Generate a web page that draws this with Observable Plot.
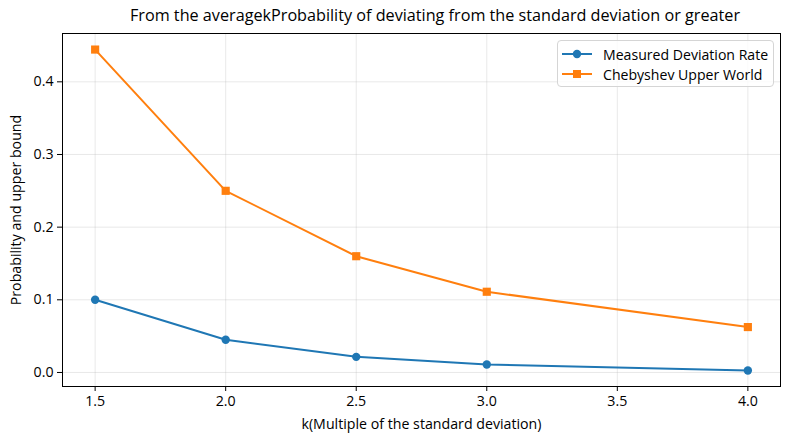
<!DOCTYPE html>
<html><head><meta charset="utf-8">
<script src="https://cdn.jsdelivr.net/npm/d3@7"></script>
<script src="https://cdn.jsdelivr.net/npm/@observablehq/plot@0.6"></script>
<style>
body{margin:0;background:#fff;font-family:"Open Sans",sans-serif;}
#wrap{position:relative;width:790px;height:440px;}
#title{position:absolute;top:4px;left:62px;width:746px;text-align:center;font-size:16.2px;color:#000;white-space:nowrap;}
#legend{position:absolute;top:40px;left:557px;width:217px;height:47px;border:1px solid #d5d5d5;border-radius:4px;background:rgba(255,255,255,0.8);font-size:14.1px;box-sizing:border-box;}
.li{position:absolute;left:4px;height:16px;display:flex;align-items:center;white-space:nowrap;}
.li svg{margin-right:11px;}
</style></head><body>
<div id="wrap"><div id="title">From the averagekProbability of deviating from the standard deviation or greater</div></div>
<script>
const kValues = [1.5, 2.0, 2.5, 3.0, 4.0];
const measured = [0.100, 0.045, 0.0215, 0.011, 0.0028];
const chebyshev = [0.4444, 0.25, 0.16, 0.1111, 0.0625];
const xTicks = [1.5, 2.0, 2.5, 3.0, 3.5, 4.0];
const yTicks = [0.0, 0.1, 0.2, 0.3, 0.4];
const seriesNames = ["Measured Deviation Rate", "Chebyshev Upper World"];
const colors = ["#1f77b4", "#ff7f0e"];

const mData = kValues.map((k, i) => ({k, v: measured[i]}));
const cData = kValues.map((k, i) => ({k, v: chebyshev[i]}));

const chart = Plot.plot({
  width: 790, height: 440,
  marginTop: 33, marginLeft: 62, marginRight: 10, marginBottom: 54,
  style: {fontFamily: '"Open Sans",sans-serif', fontSize: "14.2px", color: "#000", background: "#fff"},
  x: {domain: [1.375, 4.125], ticks: xTicks},
  y: {domain: [-0.0193, 0.4665], ticks: yTicks},
  marks: [
    Plot.gridX(xTicks, {stroke: "#b0b0b0", strokeOpacity: 0.35, strokeWidth: 0.8}),
    Plot.gridY(yTicks, {stroke: "#b0b0b0", strokeOpacity: 0.35, strokeWidth: 0.8}),
    Plot.axisX(xTicks, {tickSize: 5, tickPadding: 4, tickFormat: d3.format(".1f"), fontSize: 14.2,
      label: "k(Multiple of the standard deviation)", labelAnchor: "center", labelArrow: "none", labelOffset: 42}),
    Plot.axisY(yTicks, {tickSize: 5, tickPadding: 4, tickFormat: d3.format(".1f"), fontSize: 14.2,
      label: "Probability and upper bound", labelAnchor: "center", labelArrow: "none", labelOffset: 52}),
    Plot.line(mData, {x: "k", y: "v", stroke: colors[0], strokeWidth: 2}),
    Plot.dot(mData, {x: "k", y: "v", fill: colors[0], r: 4.2, symbol: "circle"}),
    Plot.line(cData, {x: "k", y: "v", stroke: colors[1], strokeWidth: 2}),
    Plot.dot(cData, {x: "k", y: "v", fill: colors[1], r: 4.6, symbol: "square"}),
    Plot.frame({stroke: "#000", strokeWidth: 1})
  ]
});
const wrap = document.getElementById("wrap");
wrap.appendChild(chart);

const legend = document.createElement("div");
legend.id = "legend";
seriesNames.forEach((name, i) => {
  const row = document.createElement("div");
  row.className = "li";
  row.style.top = (i === 0 ? 5 : 25) + "px";
  const mark = i === 0
    ? `<circle cx="15" cy="8" r="4.2" fill="${colors[i]}"/>`
    : `<rect x="11" y="4" width="8" height="8" fill="${colors[i]}"/>`;
  row.innerHTML = `<svg width="30" height="16"><line x1="0" x2="30" y1="8" y2="8" stroke="${colors[i]}" stroke-width="2"/>${mark}</svg><span>${name}</span>`;
  legend.appendChild(row);
});
wrap.appendChild(legend);
</script>
</body></html>
